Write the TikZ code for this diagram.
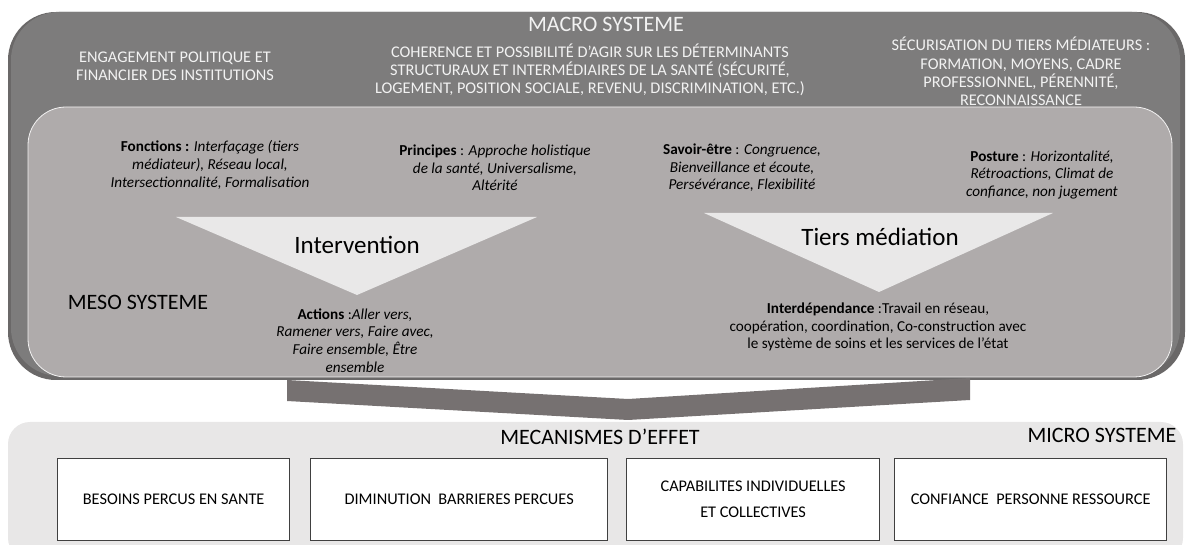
\documentclass[tikz,border=0pt]{standalone}
\usepackage{fontspec}
\setmainfont{Carlito}
\definecolor{macrogray}{HTML}{7D7C7C}
\definecolor{macrorim}{HTML}{6A6868}
\definecolor{mesogray}{HTML}{AFABAB}
\definecolor{microgray}{HTML}{E8E7E7}
\definecolor{bandgray}{HTML}{767171}
\definecolor{trifill}{HTML}{E9E8E8}
\definecolor{macrotxt}{HTML}{F2F2F2}
\definecolor{boxline}{HTML}{404040}

\tikzset{
	macrotext/.style={text=macrotxt, align=center, font=\fontsize{16.3}{18.2}\selectfont},
	mesotext/.style={align=center, font=\fontsize{15.2}{17.6}\selectfont},
	systitle/.style={font=\fontsize{22}{24}\selectfont},
	trilabel/.style={font=\fontsize{25}{28}\selectfont},
	effetbox/.style={draw=boxline, fill=white, line width=1.3pt, inner sep=0pt,
		anchor=north west, minimum height=82pt, align=center,
		font=\fontsize{16.3}{26}\selectfont}
}

\begin{document}
\begin{tikzpicture}[x=1pt, y=-1pt]
	\useasboundingbox (0,0) rectangle (1187,545);

	% macro system
	\fill[macrorim, rounded corners=48pt] (8,12) rectangle (1185,380);
	\fill[macrogray, rounded corners=48pt] (11,12) rectangle (1180,376);
	\node[systitle, text=macrotxt] (macro) at (606,24) {MACRO SYSTEME};
	\node[macrotext] (engagement) at (175,66) {ENGAGEMENT POLITIQUE ET\\FINANCIER DES INSTITUTIONS};
	\node[macrotext] (coherence) at (590,70) {COHERENCE ET POSSIBILITÉ D’AGIR SUR LES DÉTERMINANTS\\STRUCTURAUX ET INTERMÉDIAIRES DE LA SANTÉ (SÉCURITÉ,\\LOGEMENT, POSITION SOCIALE, REVENU, DISCRIMINATION, ETC.)};
	\node[macrotext] (securisation) at (1021,71.5) {SÉCURISATION DU TIERS MÉDIATEURS :\\FORMATION, MOYENS, CADRE\\PROFESSIONNEL, PÉRENNITÉ,\\RECONNAISSANCE};

	% meso system
	\filldraw[fill=mesogray, draw=white!85!mesogray, line width=0.8pt, rounded corners=38pt] (28,107) rectangle (1172,377);
	\node[mesotext] (fonctions) at (210,165) {\textbf{Fonctions :} \textit{Interfaçage (tiers}\\\textit{médiateur), Réseau local,}\\\textit{Intersectionnalité, Formalisation}};
	\node[mesotext] (principes) at (495,168) {\textbf{Principes} : \textit{Approche holistique}\\\textit{de la santé, Universalisme,}\\\textit{Altérité}};
	\node[mesotext] (savoir) at (742,168) {\textbf{Savoir-être} : \textit{Congruence,}\\\textit{Bienveillance et écoute,}\\\textit{Persévérance, Flexibilité}};
	\node[mesotext] (posture) at (1042,175) {\textbf{Posture} : \textit{Horizontalité,}\\\textit{Rétroactions, Climat de}\\\textit{confiance, non jugement}};

	\fill[trifill] (176,217) -- (537,217) -- (357,295) -- cycle;
	\fill[trifill] (704,213) -- (1053,213) -- (879,292) -- cycle;
	\node[trilabel] (intervention) at (357,245) {Intervention};
	\node[trilabel] (tiers) at (880,237) {Tiers médiation};

	\node[systitle] (meso) at (138,302) {MESO SYSTEME};
	\node[mesotext] (actions) at (355,340.5) {\textbf{Actions} :\textit{Aller vers,}\\\textit{Ramener vers, Faire avec,}\\\textit{Faire ensemble, Être}\\\textit{ensemble}};
	\node[mesotext] (interdep) at (878,327) {\textbf{Interdépendance} :Travail en réseau,\\coopération, coordination, Co-construction avec\\le système de soins et les services de l’état};

	% band towards micro
	\fill[bandgray] (287,380) -- (628,399) -- (970,378) -- (970,400) -- (628,420) -- (287,401) -- cycle;

	% micro system
	\fill[microgray, rounded corners=22pt] (8,422) rectangle (1183,560);
	\node[systitle] (mecanismes) at (600,437) {MECANISMES D’EFFET};
	\node[systitle] (micro) at (1102,435) {MICRO SYSTEME};
	\node[effetbox, minimum width=232pt] (besoins) at (57,458) {BESOINS PERCUS EN SANTE};
	\node[effetbox, minimum width=297pt] (barrieres) at (310,458) {DIMINUTION\ \ BARRIERES PERCUES};
	\node[effetbox, minimum width=253pt] (capabilites) at (626,458) {CAPABILITES INDIVIDUELLES\\ET COLLECTIVES};
	\node[effetbox, minimum width=272pt] (confiance) at (894,458) {CONFIANCE\ \ PERSONNE RESSOURCE};
\end{tikzpicture}
\end{document}
